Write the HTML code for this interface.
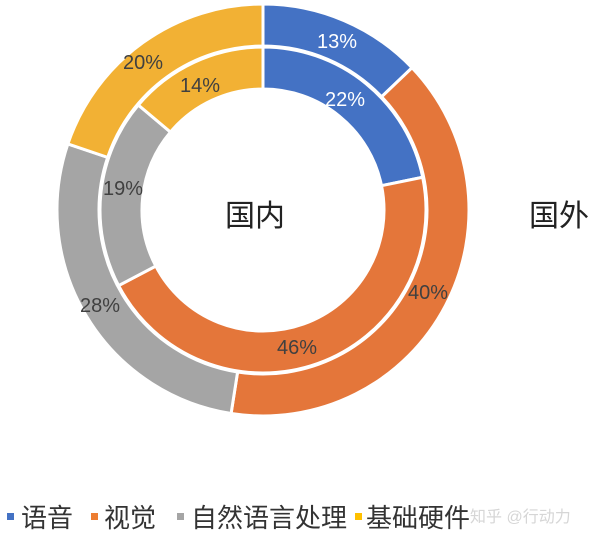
<!DOCTYPE html>
<html><head><meta charset="utf-8"><style>
body{margin:0;background:#fff;width:600px;height:537px;overflow:hidden}
svg{display:block}
text{font-family:"Liberation Sans","Noto Sans CJK SC",sans-serif}
</style></head><body>
<svg id="s" width="600" height="537" viewBox="0 0 600 537" xmlns="http://www.w3.org/2000/svg">
<g id="rings"></g>
<g font-size="20" text-anchor="middle">
<text x="337" y="48" fill="#fff">13%</text>
<text x="345" y="106" fill="#fff">22%</text>
<text x="428" y="299" fill="#404040">40%</text>
<text x="297" y="354" fill="#404040">46%</text>
<text x="100" y="312" fill="#404040">28%</text>
<text x="123" y="195" fill="#404040">19%</text>
<text x="143" y="69" fill="#404040">20%</text>
<text x="200" y="92" fill="#404040">14%</text>
</g>
<text x="255" y="226" font-size="30" text-anchor="middle" fill="#222">国内</text>
<text x="559" y="226" font-size="30" text-anchor="middle" fill="#222">国外</text>
<g font-size="26" fill="#333">
<rect x="7" y="513" width="7" height="7" fill="#4472c4"/><text x="21" y="527">语音</text>
<rect x="91" y="513" width="7" height="7" fill="#ed7d31"/><text x="104" y="527">视觉</text>
<rect x="177" y="513" width="7" height="7" fill="#a5a5a5"/><text x="191" y="527">自然语言处理</text>
<rect x="355" y="513" width="7" height="7" fill="#ffc000"/><text x="366" y="527">基础硬件</text>
</g>
<text x="470" y="522" font-size="16" fill="#ccc" opacity="0.8">知乎 @行动力</text>
</svg>
<script>
var cx=263,cy=210,cols=["#4472c4","#e4763a","#a5a5a5","#f2b134"];
function arc(r0,r1,a0,a1,c){
 function p(r,a){a=a*Math.PI/180;return (cx+r*Math.sin(a)).toFixed(2)+","+(cy-r*Math.cos(a)).toFixed(2);}
 var l=(a1-a0)>180?1:0;
 return '<path d="M'+p(r1,a0)+' A'+r1+','+r1+' 0 '+l+' 1 '+p(r1,a1)+' L'+p(r0,a1)+' A'+r0+','+r0+' 0 '+l+' 0 '+p(r0,a0)+' Z" fill="'+c+'" stroke="#fff" stroke-width="3"/>';
}
function ring(v,r0,r1){var s=0,o="",t=v.reduce(function(a,b){return a+b},0);v.forEach(function(x,i){var a=s/t*360;s+=x;o+=arc(r0,r1,a,s/t*360,cols[i]);});return o;}
document.getElementById("rings").innerHTML=ring([13,40,28,20],164,206)+ring([22,46,19,14],121,163);
</script>
</body></html>
